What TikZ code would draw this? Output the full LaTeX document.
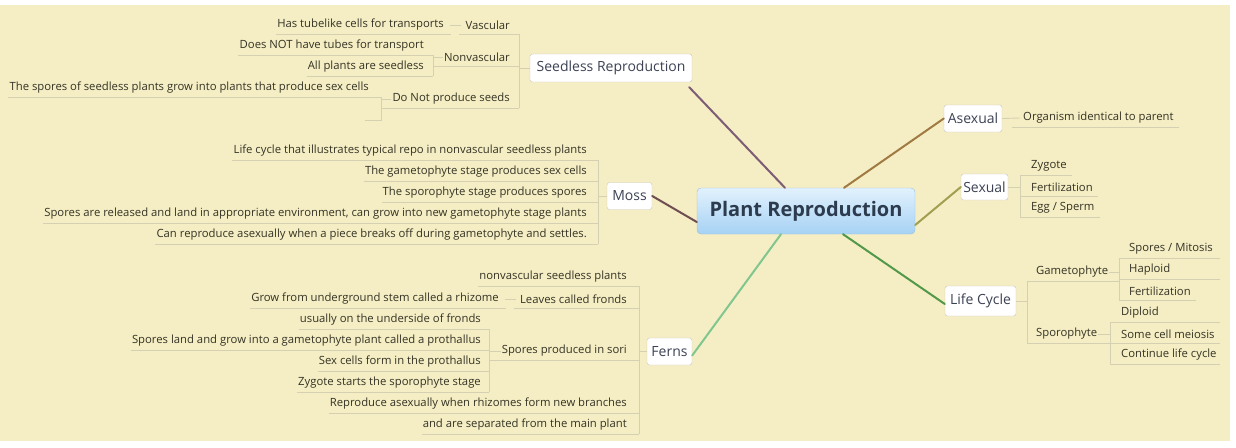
\documentclass[tikz,border=0pt]{standalone}
\usepackage{fontspec}
\setmainfont{Open Sans}
\definecolor{bgc}{RGB}{245,238,196}
\definecolor{txt}{RGB}{52,50,36}
\definecolor{ttxt}{RGB}{60,66,84}
\definecolor{ul}{RGB}{214,208,178}
\definecolor{tb}{RGB}{200,198,186}
\definecolor{cSR}{RGB}{125,92,118}
\definecolor{cMo}{RGB}{110,78,82}
\definecolor{cFe}{RGB}{128,198,142}
\definecolor{cAs}{RGB}{160,122,66}
\definecolor{cSe}{RGB}{160,158,80}
\definecolor{cLi}{RGB}{82,152,74}
\begin{document}
\begin{tikzpicture}[x=1pt,y=-1pt,
  leaf/.style={font=\fontsize{11.3}{13}\selectfont, text=txt, inner xsep=1pt, inner ysep=0pt, minimum height=18pt},
  leafL/.style={leaf, anchor=east},
  leafR/.style={leaf, anchor=west},
  topic/.style={draw=tb, fill=white, rounded corners=2.5pt, font=\fontsize{14}{16}\selectfont, text=ttxt, inner sep=0pt},
  central/.style={draw={rgb,255:red,150;green,190;blue,222}, rounded corners=4pt, top color={rgb,255:red,226;green,241;blue,253}, bottom color={rgb,255:red,166;green,210;blue,244}, font=\fontsize{20}{22}\selectfont\bfseries, text={rgb,255:red,44;green,60;blue,78}, minimum width=218pt, minimum height=46pt, inner sep=0pt},
  uline/.style={draw=ul, line width=0.9pt},
  branch/.style={line width=2pt, line cap=round}]
\useasboundingbox (0,0) rectangle (1236,447);
\fill[white] (0,0) rectangle (1236,447);
\fill[bgc] (0,5) rectangle (1230,441);

% central and main topics
\node[central] (c) at (806,211) {Plant Reproduction};
\node[topic, minimum width=162pt, minimum height=28pt] (sr) at (611,68) {Seedless Reproduction};
\node[topic, minimum width=45pt, minimum height=27pt] (moss) at (629.5,196) {Moss};
\node[topic, minimum width=45pt, minimum height=27pt] (ferns) at (669.5,351.5) {Ferns};
\node[topic, minimum width=58pt, minimum height=27pt] (asex) at (973,118.5) {Asexual};
\node[topic, minimum width=47pt, minimum height=26pt] (sex) at (984.5,187) {Sexual};
\node[topic, minimum width=71pt, minimum height=30pt] (life) at (980.5,301) {Life Cycle};

\draw[branch, cSR] ([xshift=-21pt]c.north) -- ([xshift=-3pt,yshift=-5pt]sr.south east);
\draw[branch, cMo] ([yshift=-11pt]c.west) -- (moss.east);
\draw[branch, cFe] ([xshift=-25pt]c.south) -- ([yshift=-4pt]ferns.east);
\draw[branch, cAs] ([xshift=38pt]c.north) -- (asex.west);
\draw[branch, cSe] ([yshift=-14pt]c.east) -- (sex.west);
\draw[branch, cLi] ([xshift=37pt]c.south) -- ([yshift=-3pt]life.west);

% ---------- Seedless Reproduction ----------
\coordinate (bkS) at (519,0);
\coordinate (bkN) at (433,0);
\coordinate (bkD) at (381,0);
\coordinate (dnE) at (365,120);
\node[leafL] (vas) at (511,25) {Vascular};
\node[leafL] (vas1) at (445,25) {Has tubelike cells for transports};
\node[leafL] (nonv) at (511,57) {Nonvascular};
\node[leafL] (nv1) at (425,46) {Does NOT have tubes for transport};
\node[leafL] (nv2) at (425,67) {All plants are seedless};
\node[leafL] (dnp) at (511,99) {Do Not produce seeds};
\node[leafL] (dn1) at (370,88) {The spores of seedless plants grow into plants that produce sex cells};

\draw[uline] (vas1.south west) -- ([xshift=6pt]vas1.south east);
\draw[uline] ([xshift=-5pt]vas.south west) -- (vas.south west -| bkS);
\draw[uline] ([xshift=-3pt]vas.west) -- ([xshift=5pt]vas1.east);
\draw[uline] (nv1.south west) -- (nv1.south west -| bkN);
\draw[uline] (nv2.south west) -- (nv2.south west -| bkN);
\draw[uline] (nv1.south west -| bkN) -- (nv2.south west -| bkN);
\draw[uline] (nonv.west) -- (nonv.west -| bkN);
\draw[uline] (nonv.south west -| bkN) -- (nonv.south west -| bkS);
\draw[uline] (dn1.south west) -- (dn1.south west -| bkD);
\draw[uline] (dn1.south west -| bkD) -- (bkD |- dnE) -- (dnE);
\draw[uline] (dnp.west) -- (dnp.west -| bkD);
\draw[uline] (dnp.south west -| bkD) -- (dnp.south west -| bkS);
\draw[uline] (vas.south west -| bkS) -- (dnp.south west -| bkS);
\draw[uline] (sr.west) -- (sr.west -| bkS);

% ---------- Moss ----------
\coordinate (bkM) at (598,0);
\node[leafL] (m1) at (588,151) {Life cycle that illustrates typical repo in nonvascular seedless plants};
\node[leafL] (m2) at (588,172) {The gametophyte stage produces sex cells};
\node[leafL] (m3) at (588,193) {The sporophyte stage produces spores};
\node[leafL] (m4) at (588,214) {Spores are released and land in appropriate environment, can grow into new gametophyte stage plants};
\node[leafL] (m5) at (588,235) {Can reproduce asexually when a piece breaks off during gametophyte and settles.};
\foreach \n in {m1,m2,m3,m4,m5}{\draw[uline] (\n.south west) -- (\n.south west -| bkM);}
\draw[uline] (m1.south west -| bkM) -- (m5.south west -| bkM);
\draw[uline] (moss.west) -- (moss.west -| bkM);

% ---------- Ferns ----------
\coordinate (bkF) at (639,0);
\coordinate (bkSo) at (489,0);
\node[leafL] (f1) at (628,277) {nonvascular seedless plants};
\node[leafL] (f2) at (628,299) {Leaves called fronds};
\node[leafL] (f2a) at (500,299) {Grow from underground stem called a rhizome};
\node[leafL] (f3) at (628,351) {Spores produced in sori};
\node[leafL] (s1) at (482,320) {usually on the underside of fronds};
\node[leafL] (s2) at (482,341) {Spores land and grow into a gametophyte plant called a prothallus};
\node[leafL] (s3) at (482,362) {Sex cells form in the prothallus};
\node[leafL] (s4) at (482,383) {Zygote starts the sporophyte stage};
\node[leafL] (f4) at (628,404) {Reproduce asexually when rhizomes form new branches};
\node[leafL] (f5) at (628,425) {and are separated from the main plant};
\foreach \n in {f1,f4,f5}{\draw[uline] (\n.south west) -- (\n.south west -| bkF);}
\draw[uline] (f2a.south west) -- ([xshift=6pt]f2a.south east);
\draw[uline] ([xshift=-5pt]f2.south west) -- (f2.south west -| bkF);
\draw[uline] ([xshift=-3pt]f2.west) -- ([xshift=5pt]f2a.east);
\foreach \n in {s1,s2,s3,s4}{\draw[uline] (\n.south west) -- (\n.south west -| bkSo);}
\draw[uline] (s1.south west -| bkSo) -- (s4.south west -| bkSo);
\draw[uline] (f3.west) -- (f3.west -| bkSo);
\draw[uline] (f3.south west -| bkSo) -- (f3.south west -| bkF);
\draw[uline] (f1.south west -| bkF) -- (f5.south west -| bkF);
\draw[uline] (ferns.west) -- (ferns.west -| bkF);

% ---------- Asexual ----------
\node[leafR] (o1) at (1022,118) {Organism identical to parent};
\draw[uline] ([xshift=-10pt]o1.south west) -- ([xshift=4pt]o1.south east);
\draw[uline] (asex.east) -- ([xshift=-2pt]o1.west);

% ---------- Sexual ----------
\coordinate (bkX) at (1020,0);
\node[leafR] (x1) at (1030,166) {Zygote};
\node[leafR] (x2) at (1030,187) {Fertilization};
\node[leafR] (x3) at (1030,208) {Egg / Sperm};
\foreach \n in {x1,x2,x3}{\draw[uline] (\n.south west -| bkX) -- ([xshift=4pt]\n.south east);}
\draw[uline] (x1.south west -| bkX) -- (x3.south west -| bkX);
\draw[uline] (sex.east) -- (sex.east -| bkX);

% ---------- Life Cycle ----------
\coordinate (bkL) at (1027,0);
\coordinate (bkG) at (1119,0);
\coordinate (bkP) at (1110,0);
\coordinate (rEnd) at (1220,0);
\node[leafR] (g) at (1035,272) {Gametophyte};
\node[leafR] (sp) at (1035,334) {Sporophyte};
\node[leafR] (g1) at (1128,249) {Spores / Mitosis};
\node[leafR] (g2) at (1128,270) {Haploid};
\node[leafR] (g3) at (1128,291) {Fertilization};
\node[leafR] (p1) at (1120,313) {Diploid};
\node[leafR] (p2) at (1120,334) {Some cell meiosis};
\node[leafR] (p3) at (1120,355) {Continue life cycle};
\draw[uline] (life.east) -- (life.east -| bkL);
\draw[uline] (g.south west -| bkL) -- (sp.south west -| bkL);
\draw[uline] (g.south west -| bkL) -- (g.south west -| bkG);
\draw[uline] (sp.south west -| bkL) -- (sp.south west -| bkP);
\draw[uline] (g.east) -- (g.east -| bkG);
\draw[uline] (sp.east) -- (sp.east -| bkP);
\foreach \n in {g1,g2}{\draw[uline] (\n.south west -| bkG) -- (\n.south west -| rEnd);}
\draw[uline] (g3.south west -| bkG) -- ([xshift=4pt]g3.south east);
\draw[uline] (g1.south west -| bkG) -- (g3.south west -| bkG);
\foreach \n in {p1,p2,p3}{\draw[uline] (\n.south west -| bkP) -- (\n.south west -| rEnd);}
\draw[uline] (p1.south west -| bkP) -- (p3.south west -| bkP);
\end{tikzpicture}
\end{document}
